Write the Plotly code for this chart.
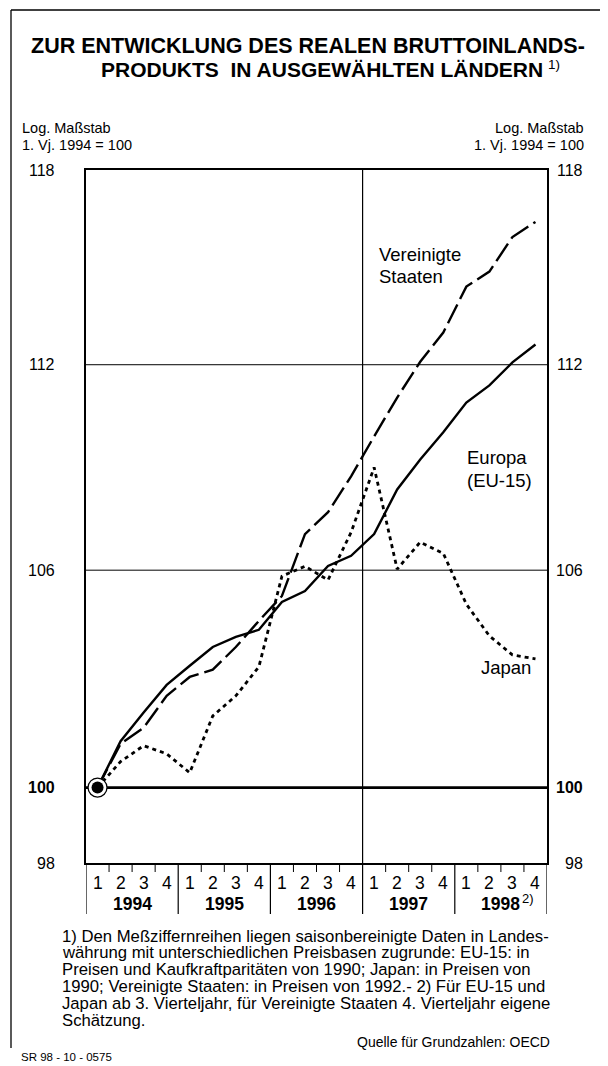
import math
import plotly.graph_objects as go

# ---------------- data ----------------
quarter_labels = ["1", "2", "3", "4"] * 5
year_labels = ["1994", "1995", "1996", "1997", "1998"]
x_pos = [i + 0.5 for i in range(20)]

europa = [100.0, 101.25, 102.03, 102.79, 103.32, 103.84, 104.12, 104.32, 105.10, 105.41,
          106.12, 106.41, 107.03, 108.32, 109.19, 109.99, 110.87, 111.38, 112.07, 112.61]
usa = [100.0, 101.18, 101.62, 102.49, 103.01, 103.21, 103.84, 104.57, 105.27, 107.03,
       107.66, 108.70, 109.87, 111.02, 112.09, 112.97, 114.37, 114.83, 115.90, 116.37]
japan = [100.0, 100.70, 101.13, 100.91, 100.40, 101.94, 102.49, 103.29, 105.83, 106.11,
         105.72, 107.08, 108.96, 106.03, 106.80, 106.48, 105.04, 104.15, 103.62, 103.51]

y_ticks = [118, 112, 106, 100, 98]
grid_vals = [112, 106]

# ---------------- layout helpers ----------------
# The page body adds an 8px margin, so the figure is 8px smaller and all
# reference pixel positions are shifted by OFF.
OFF = 8
W, H = 608 - OFF, 1066 - OFF
L, R, T, B = 86, 547, 170, 863  # plot box in reference pixels


def px(x):
    return (x - L) / (R - L)


def py(y):
    return (B - y) / (B - T)


FONT = "Arial, Liberation Sans, sans-serif"

fig = go.Figure()

fig.add_trace(go.Scatter(x=x_pos, y=japan, mode="lines",
                         line=dict(color="black", width=2.8, dash="4px,4px"),
                         showlegend=False, hoverinfo="skip"))
fig.add_trace(go.Scatter(x=x_pos, y=usa, mode="lines",
                         line=dict(color="black", width=2.4, dash="21px,6px"),
                         showlegend=False, hoverinfo="skip"))
fig.add_trace(go.Scatter(x=x_pos, y=europa, mode="lines",
                         line=dict(color="black", width=2.4),
                         showlegend=False, hoverinfo="skip"))
# start marker (ring + dot)
fig.add_trace(go.Scatter(x=[x_pos[0]], y=[europa[0]], mode="markers",
                         marker=dict(size=19, color="white", line=dict(color="black", width=1.3)),
                         showlegend=False, hoverinfo="skip", cliponaxis=False))
fig.add_trace(go.Scatter(x=[x_pos[0]], y=[europa[0]], mode="markers",
                         marker=dict(size=12, color="black"),
                         showlegend=False, hoverinfo="skip", cliponaxis=False))

shapes = []
for g in grid_vals:
    shapes.append(dict(type="line", xref="x", yref="y", x0=0, x1=20, y0=g, y1=g,
                       line=dict(color="black", width=1), layer="below"))
shapes.append(dict(type="line", xref="x", yref="y", x0=-0.4, x1=20.4, y0=100, y1=100,
                   line=dict(color="black", width=2.6), layer="below"))
shapes.append(dict(type="line", xref="x", yref="paper", x0=12, x1=12, y0=1, y1=py(914),
                   line=dict(color="black", width=1.2)))
for k in [0, 4, 8, 16, 20]:
    shapes.append(dict(type="line", xref="x", yref="paper", x0=k, x1=k, y0=0, y1=py(914),
                       line=dict(color="black", width=1.2)))
for q in range(20):
    if q % 4 != 0:
        shapes.append(dict(type="line", xref="x", yref="paper", x0=q, x1=q, y0=0, y1=py(872),
                           line=dict(color="black", width=1)))
# outer frame (left, top, right)
shapes.append(dict(type="line", xref="paper", yref="paper", x0=px(11), x1=px(11),
                   y0=py(10), y1=py(1048), line=dict(color="black", width=1.3)))
shapes.append(dict(type="line", xref="paper", yref="paper", x0=px(11), x1=px(606),
                   y0=py(10), y1=py(10), line=dict(color="black", width=1.3)))
shapes.append(dict(type="line", xref="paper", yref="paper", x0=px(606), x1=px(606),
                   y0=py(10), y1=py(1048), line=dict(color="black", width=1.3)))

ann = []


def text(x, y, s, size, anchor="left", bold=False, xref="paper", yref="paper"):
    if bold:
        s = "<b>" + s + "</b>"
    ann.append(dict(x=x, y=y, xref=xref, yref=yref, text=s, showarrow=False,
                    xanchor=anchor, yanchor="middle",
                    font=dict(family=FONT, size=size, color="black")))


# title
text(px(308), py(46), "ZUR ENTWICKLUNG DES REALEN BRUTTOINLANDS-", 21.5, "center", True)
text(px(545), py(69), "PRODUKTS  IN AUSGEWÄHLTEN LÄNDERN", 21, "right", True)
text(px(546), py(65), "1)", 13.5, "left", False)

# axis captions
text(px(20), py(128), "Log. Maßstab", 14.5, "left")
text(px(20), py(145), "1. Vj. 1994 = 100", 14.5, "left")
text(px(586), py(128), "Log. Maßstab", 14.5, "right")
text(px(586), py(145), "1. Vj. 1994 = 100", 14.5, "right")

# y tick labels on both sides (positioned through the log axis)
for v in y_ticks:
    b = (v == 100)
    text(px(57), math.log10(v), str(v), 16, "right", b, yref="y")
    text(px(585), math.log10(v), str(v), 16, "right", b, yref="y")

# quarter labels
for xq, ql in zip(x_pos, quarter_labels):
    text(xq, py(883), ql, 17.5, "center", xref="x")
# year labels
for k, yl in enumerate(year_labels):
    text(4 * k + 2, py(904), yl, 17.5, "center", True, xref="x")
ann.append(dict(x=18.85, y=py(898), xref="x", yref="paper", text="2)", showarrow=False,
                xanchor="left", yanchor="middle",
                font=dict(family=FONT, size=13, color="black")))

# series labels
text(px(377), py(254), "Vereinigte", 18.5, "left")
text(px(377), py(276), "Staaten", 18.5, "left")
text(px(465), py(457), "Europa", 18.5, "left")
text(px(465), py(480), "(EU-15)", 18.5, "left")
text(px(479), py(667), "Japan", 18.5, "left")

# footnote
foot = [
    "1) Den Meßziffernreihen liegen saisonbereinigte Daten in Landes-",
    "währung mit unterschiedlichen Preisbasen zugrunde: EU-15: in",
    "Preisen und Kaufkraftparitäten von 1990; Japan: in Preisen von",
    "1990; Vereinigte Staaten: in Preisen von 1992.- 2) Für EU-15 und",
    "Japan ab 3. Vierteljahr, für Vereinigte Staaten 4. Vierteljahr eigene",
    "Schätzung.",
]
for i, line in enumerate(foot):
    text(px(60), py(936 + i * 16.8), line, 16.7, "left")
text(px(552), py(1042), "Quelle für Grundzahlen: OECD", 14, "right")
text(px(19), py(1057), "SR 98 - 10 - 0575", 11.5, "left")

fig.update_layout(
    width=W, height=H,
    margin=dict(l=L - OFF, r=W - (R - OFF), t=T - OFF, b=H - (B - OFF), pad=0),
    paper_bgcolor="white", plot_bgcolor="white",
    shapes=shapes, annotations=ann,
    showlegend=False,
    xaxis=dict(range=[0, 20], showticklabels=False, showgrid=False, zeroline=False,
               showline=True, mirror=True, linecolor="black", linewidth=1.5, ticks=""),
    yaxis=dict(type="log", range=[math.log10(98), math.log10(118)], showticklabels=False,
               showgrid=False, zeroline=False, showline=True, mirror=True,
               linecolor="black", linewidth=1.5, ticks=""),
    font=dict(family=FONT, color="black"),
)

fig.write_html("out.html")
